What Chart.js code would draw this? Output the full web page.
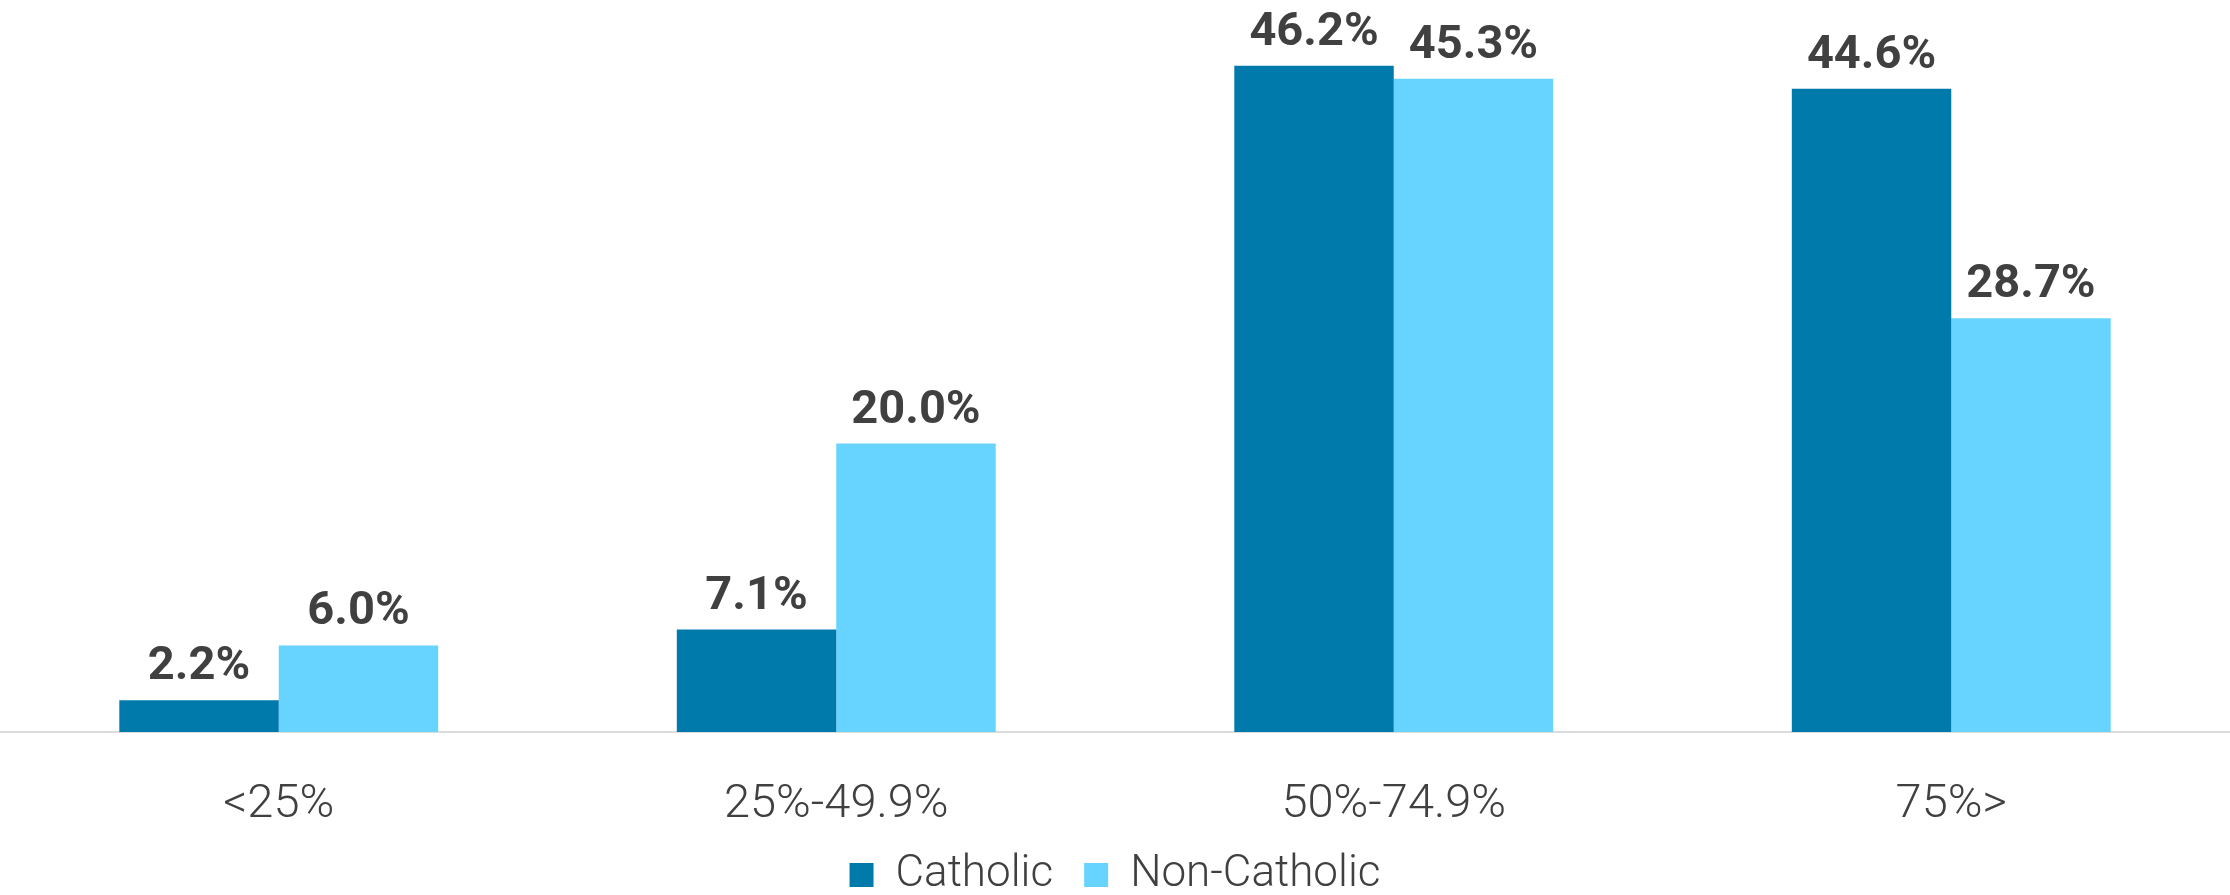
<!DOCTYPE html>
<html>
<head>
<meta charset="utf-8">
<script src="https://cdn.jsdelivr.net/npm/chart.js@4/dist/chart.umd.min.js"></script>
<style>
  html, body { margin: 0; padding: 0; background: #ffffff; }
  #wrap { width: 2230px; height: 895px; position: relative; }
</style>
</head>
<body>
<div id="wrap"><canvas id="c"></canvas></div>
<script>
const categories = ['<25%', '25%-49.9%', '50%-74.9%', '75%>'];
const seriesNames = ['Catholic', 'Non-Catholic'];
const catholicValues = [2.2, 7.1, 46.2, 44.6];
const nonCatholicValues = [6.0, 20.0, 45.3, 28.7];

const TEXT = '#404040';

const valueLabels = {
  id: 'valueLabels',
  afterDatasetsDraw(chart) {
    const ctx = chart.ctx;
    ctx.save();
    ctx.font = 'bold 47px Roboto, "Noto Sans", sans-serif';
    ctx.fillStyle = TEXT;
    ctx.textAlign = 'center';
    ctx.textBaseline = 'alphabetic';
    chart.data.datasets.forEach((ds, di) => {
      const meta = chart.getDatasetMeta(di);
      meta.data.forEach((bar, i) => {
        ctx.fillText(ds.data[i].toFixed(1) + '%', bar.x, bar.y - 21);
      });
    });
    ctx.restore();
  }
};

new Chart(document.getElementById('c'), {
  type: 'bar',
  data: {
    labels: categories,
    datasets: [
      { label: seriesNames[0], data: catholicValues, backgroundColor: '#007AAB',
        categoryPercentage: 0.572, barPercentage: 1.0 },
      { label: seriesNames[1], data: nonCatholicValues, backgroundColor: '#67D3FF',
        categoryPercentage: 0.572, barPercentage: 1.0 }
    ]
  },
  options: {
    responsive: true,
    maintainAspectRatio: false,
    animation: false,
    devicePixelRatio: 1,
    layout: { padding: { top: 11, bottom: -12, left: 0, right: 0 } },
    plugins: {
      tooltip: { enabled: false },
      legend: {
        position: 'bottom',
        align: 'center',
        labels: {
          color: TEXT,
          font: { family: 'Roboto, "Noto Sans", sans-serif', size: 44, weight: 300 },
          boxWidth: 24,
          boxHeight: 24,
          padding: 31
        }
      }
    },
    scales: {
      x: {
        grid: { display: false, drawTicks: false },
        border: { display: true, color: '#dcdcdc', width: 2 },
        ticks: {
          color: TEXT,
          font: { family: 'Roboto, "Noto Sans", sans-serif', size: 47, weight: 300 },
          padding: 45,
          maxRotation: 0
        },
        afterFit(scale) { scale.height = 90; }
      },
      y: {
        display: false,
        min: 0,
        max: 50
      }
    }
  },
  plugins: [valueLabels]
});
</script>
</body>
</html>
